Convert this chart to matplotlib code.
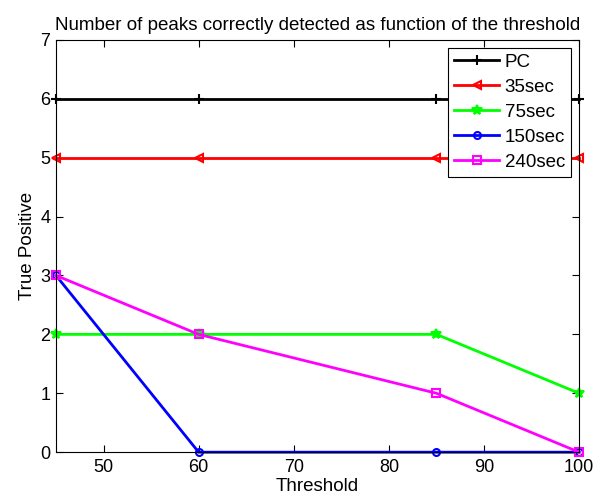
import matplotlib
matplotlib.use("Agg")
import matplotlib.pyplot as plt

plt.rcParams['font.family'] = ['Liberation Sans', 'DejaVu Sans']

threshold = [45, 60, 85, 100]
pc = [6, 6, 6, 6]
sec35 = [5, 5, 5, 5]
sec75 = [2, 2, 2, 1]
sec150 = [3, 0, 0, 0]
sec240 = [3, 2, 1, 0]

fig = plt.figure(figsize=(6.02, 4.98), dpi=100)
ax = fig.add_axes([0.093, 0.092, 0.869, 0.828])

ax.plot(threshold, pc, color='black', marker='+', ms=7, mew=1.5, lw=2, label='PC', clip_on=False)
ax.plot(threshold, sec35, color='red', marker='<', ms=6, mew=1.5, mfc='none', lw=2, label='35sec', clip_on=False)
ax.plot(threshold, sec75, color='#00ff00', marker='*', ms=7, mew=1.5, lw=2, label='75sec', clip_on=False)
ax.plot(threshold, sec150, color='blue', marker='o', ms=5, mew=1.5, mfc='none', lw=2, label='150sec', clip_on=False)
ax.plot(threshold, sec240, color='magenta', marker='s', ms=6, mew=1.5, mfc='none', lw=2, label='240sec', clip_on=False)

ax.set_xlim(45, 100)
ax.set_ylim(0, 7)
ax.set_xticks([50, 60, 70, 80, 90, 100])
ax.set_yticks(range(8))
ax.tick_params(direction='in', top=True, right=True, labelsize=13, length=5, pad=5)
ax.tick_params(axis='y', pad=4)
ax.set_xlabel('Threshold', fontsize=13.5, labelpad=1)
ax.set_ylabel('True Positive', fontsize=13.5, labelpad=3)
ax.set_title('Number of peaks correctly detected as function of the threshold', fontsize=13.5, pad=7)

leg = ax.legend(loc='upper right', fontsize=13.5, handlelength=2.4, fancybox=False,
                framealpha=1, edgecolor='black', borderpad=0.3, labelspacing=0.42,
                handletextpad=0.3, borderaxespad=0.45)
leg.get_frame().set_linewidth(0.8)

fig.savefig('out.png', dpi=100)
